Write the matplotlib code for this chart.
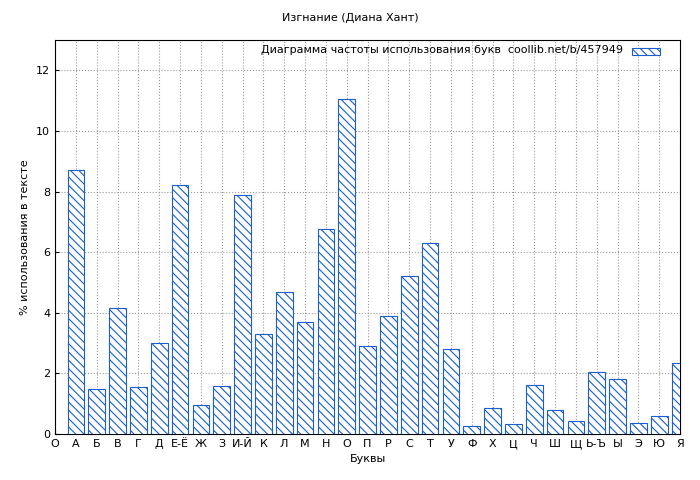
import matplotlib
matplotlib.use("Agg")
import matplotlib.pyplot as plt

labels = ["О","А","Б","В","Г","Д","Е-Ё","Ж","З","И-Й","К","Л","М","Н","О","П","Р","С","Т","У","Ф","Х","Ц","Ч","Ш","Щ","Ь-Ъ","Ы","Э","Ю","Я"]
values = [8.7,1.5,4.15,1.55,3.0,8.2,0.97,1.6,7.9,3.3,4.7,3.7,6.75,11.05,2.9,3.9,5.2,6.3,2.8,0.28,0.85,0.32,1.63,0.78,0.42,2.05,1.82,0.35,0.6,2.35]

plt.rcParams['hatch.color'] = '#1a5fd0'
plt.rcParams['hatch.linewidth'] = 0.8
fig = plt.figure(figsize=(7, 4.8), dpi=100, facecolor='white')
ax = fig.add_axes([55/700, 1-434/480, 625/700, 394/480])
pos = list(range(1, len(values)+1))
ax.bar(pos, values, width=0.8, facecolor='white', edgecolor='#1a5fd0', hatch='\\\\\\\\', linewidth=0.8, label=' ', zorder=3)
ax.set_xlim(0, 30)
ax.set_ylim(0, 13)
ax.set_xticks(range(len(labels)))
ax.set_xticklabels(labels, fontsize=8)
ax.set_yticks(range(0, 13, 2))
ax.tick_params(labelsize=8, direction='in', length=3)
ax.grid(True, linestyle=':', color='#999999', linewidth=0.8, zorder=0)
ax.set_xlabel("Буквы", fontsize=8)
ax.set_ylabel("% использования в тексте", fontsize=8)
fig.text(0.5, 1-18/480, "Изгнание (Диана Хант)", ha='center', va='center', fontsize=8)
leg = ax.legend(loc='upper right', frameon=False, fontsize=8, handlelength=2.5, handleheight=0.6, borderaxespad=0.3)
fig.text(623/700, 1-50/480, "Диаграмма частоты использования букв  coollib.net/b/457949", ha='right', va='center', fontsize=8)
fig.savefig("out.png", dpi=100)
